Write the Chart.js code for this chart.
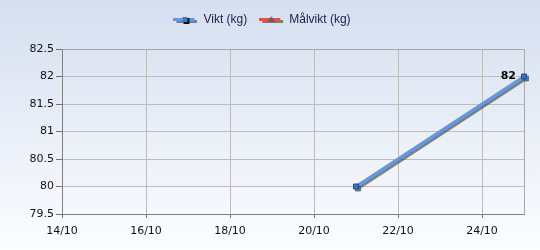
<!DOCTYPE html>
<html><head><meta charset="utf-8">
<script src="https://cdn.jsdelivr.net/npm/chart.js@4/dist/chart.umd.min.js"></script>
<style>html,body{margin:0;padding:0;background:#fff}canvas{display:block}</style>
</head><body>
<canvas id="c" width="540" height="250"></canvas>
<script>
// ---- data ----
const seriesNames = ['Vikt (kg)', 'Målvikt (kg)'];
const viktDates = ['21/10', '25/10'];
const viktValues = [80, 82];
const malviktDates = [];
const malviktValues = [];
const xTickLabels = ['14/10', '16/10', '18/10', '20/10', '22/10', '24/10'];
const xRange = ['14/10', '25/10'];
const yRange = [79.5, 82.5];
const yStep = 0.5;

const day = s => parseInt(s.split('/')[0], 10);
const toPoints = (ds, vs) => ds.map((d, i) => ({x: day(d), y: vs[i]}));

function legendIcon(lineColor, marker) {
  const c = document.createElement('canvas');
  c.width = 24; c.height = 10;
  const g = c.getContext('2d');
  g.fillStyle = 'rgba(90,90,90,0.75)';
  g.fillRect(3, 5, 21, 3);
  g.fillStyle = lineColor;
  g.fillRect(0, 3, 21, 3);
  if (marker === 'square') {
    g.fillStyle = '#111'; g.fillRect(10, 3, 6, 6);
    g.fillStyle = '#3b7bd6'; g.fillRect(9, 2, 5, 5);
  } else {
    g.fillStyle = 'rgba(90,90,90,0.8)';
    g.beginPath(); g.moveTo(12, 1); g.lineTo(16, 7); g.lineTo(8, 7); g.closePath(); g.fill();
  }
  return c;
}
const icons = [legendIcon('#5b9ae8', 'square'), legendIcon('#e0533f', 'tri')];

const bgPlugin = {
  id: 'bg',
  afterInit(chart) {
    const lg = chart.legend;
    if (lg && !lg._patched) {
      const orig = lg.fit;
      lg.fit = function () { orig.call(this); this.height += 13; };
      lg._patched = true;
    }
  },
  beforeDraw(chart) {
    const {ctx, width, height} = chart;
    const g = ctx.createLinearGradient(0, 0, 0, height);
    g.addColorStop(0, '#d5dff0');
    g.addColorStop(1, '#fcfdff');
    ctx.save(); ctx.fillStyle = g; ctx.fillRect(0, 0, width, height); ctx.restore();
  },
  beforeDatasetsDraw(chart) {
    const ctx = chart.ctx, a = chart.chartArea;
    ctx.save();
    ctx.strokeStyle = '#a8a8a8'; ctx.lineWidth = 1;
    ctx.beginPath();
    ctx.moveTo(Math.round(a.left) + 0.5, Math.round(a.top) + 0.5);
    ctx.lineTo(Math.round(a.right) + 0.5, Math.round(a.top) + 0.5);
    ctx.lineTo(Math.round(a.right) + 0.5, Math.round(a.bottom) + 0.5);
    ctx.stroke();
    ctx.restore();
    ctx.save();
    ctx.shadowColor = 'rgba(90,90,90,0.75)';
    ctx.shadowOffsetX = 2; ctx.shadowOffsetY = 2; ctx.shadowBlur = 0;
  },
  afterDatasetsDraw(chart) {
    const ctx = chart.ctx;
    ctx.restore();
    const meta = chart.getDatasetMeta(0);
    const last = meta.data[meta.data.length - 1];
    if (!last) return;
    ctx.save();
    ctx.font = 'bold 11px "DejaVu Sans"';
    ctx.fillStyle = '#000';
    ctx.textAlign = 'right'; ctx.textBaseline = 'middle';
    ctx.fillText(String(viktValues[viktValues.length - 1]), last.x - 8, last.y);
    ctx.restore();
  }
};

new Chart(document.getElementById('c'), {
  type: 'line',
  data: {
    datasets: [
      {
        label: seriesNames[0],
        data: toPoints(viktDates, viktValues),
        borderColor: '#5b9ae8', borderWidth: 3,
        pointStyle: 'rect', pointRadius: 3.5,
        pointBackgroundColor: '#3b7bd6', pointBorderColor: '#1d4a95', pointBorderWidth: 1,
        clip: false, tension: 0
      },
      {
        label: seriesNames[1],
        data: toPoints(malviktDates, malviktValues),
        borderColor: '#e0533f', borderWidth: 3,
        pointStyle: 'triangle', pointRadius: 4,
        clip: false
      }
    ]
  },
  plugins: [bgPlugin],
  options: {
    responsive: false,
    animation: false,
    layout: {padding: {left: 0, right: 16, top: 2, bottom: 0}},
    plugins: {
      tooltip: {enabled: false},
      legend: {
        position: 'top',
        labels: {
          usePointStyle: true,
          pointStyleWidth: 24,
          padding: 12,
          color: '#1e1e46',
          font: {family: 'Liberation Sans', size: 12},
          generateLabels(chart) {
            return chart.data.datasets.map((d, i) => ({
              text: d.label, pointStyle: icons[i], datasetIndex: i,
              fillStyle: 'transparent', strokeStyle: 'transparent', lineWidth: 0,
              fontColor: '#1e1e46'
            }));
          }
        }
      }
    },
    scales: {
      x: {
        type: 'linear',
        min: day(xRange[0]), max: day(xRange[1]),
        afterFit(s) { s.height = 36; },
        afterBuildTicks(s) { s.ticks = xTickLabels.map(t => ({value: day(t)})); },
        ticks: {
          autoSkip: false, maxRotation: 0, padding: 7,
          color: '#111', font: {family: 'DejaVu Sans', size: 11},
          callback: (v) => xTickLabels.find(t => day(t) === v) || ''
        },
        grid: {color: '#bcbcbc', tickColor: '#707070', tickLength: 4},
        border: {color: '#808080', width: 1}
      },
      y: {
        min: yRange[0], max: yRange[1],
        afterFit(s) { s.width = 62; },
        ticks: {
          stepSize: yStep, padding: 2,
          color: '#111', font: {family: 'DejaVu Sans', size: 11},
          callback: v => String(+(+v).toFixed(1))
        },
        grid: {color: '#bcbcbc', tickColor: '#707070', tickLength: 6},
        border: {color: '#808080', width: 1}
      }
    }
  }
});
</script>
</body></html>
